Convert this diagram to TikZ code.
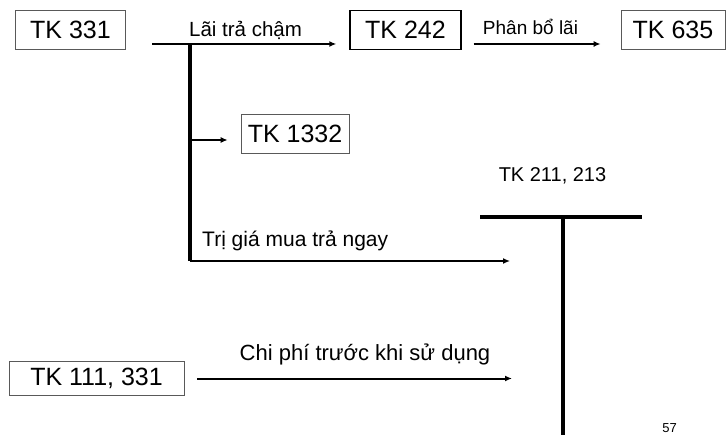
\documentclass[tikz,border=0pt]{standalone}
\usepackage{fontspec}
\setmainfont{Liberation Sans}
\usetikzlibrary{arrows.meta,positioning,calc}

\begin{document}
\begin{tikzpicture}[x=1pt,y=-1pt,
    acct/.style={draw=black!65, line width=0.8pt, minimum width=#1, minimum height=39pt,
        inner sep=0pt, font=\fontsize{25}{29}\selectfont},
    acct/.default=110pt,
    flow/.style={-{Latex[length=7pt,width=6pt]}, line width=2pt},
    thinflow/.style={flow, line width=1.3pt},
    lbl/.style={font=\fontsize{20}{24}\selectfont, inner sep=0pt},
    tee/.style={line width=4pt}]
    \useasboundingbox (0,0) rectangle (727,435);

    % Accounts
    \node[acct=110pt] (tk331) at (70.5,29.5) {TK 331};
    \node[acct=111pt, draw=black, line width=1.4pt] (tk242) at (405.5,30) {TK 242};
    \node[acct=104pt] (tk635) at (673,29.5) {TK 635};
    \node[acct=108pt] (tk1332) at (295,133.5) {TK 1332};
    \node[acct=175pt, minimum height=34pt] (tk111) at (96.5,378.5) {TK 111, 331};

    % Interest on deferred payment
    \coordinate (lstart) at (152,44);
    \coordinate (split) at (190,44);
    \coordinate (fork) at (190,261);
    \draw[flow, shorten >=13pt] (lstart) -- (tk242.west |- lstart);
    \node[lbl, anchor=base, font=\fontsize{20.5}{24}\selectfont] (lbllai) at (245.5,37) {Lãi trả chậm};
    \draw[line width=4pt] (split) -- (fork);
    \draw[flow, shorten <=12pt, shorten >=20pt] (tk242.east |- lstart) -- (tk635.west |- lstart);
    \node[lbl, anchor=base, font=\fontsize{19}{22}\selectfont] (lblpb) at (530.5,35) {Phân bổ lãi};

    % VAT
    \coordinate (vat) at (190,140);
    \draw[thinflow, shorten >=13pt] (vat) -- (tk1332.west |- vat);

    % T account
    \node[lbl] (tk211) at (552.5,176) {TK 211, 213};
    \coordinate (tleft) at (480,217);
    \coordinate (tright) at (642,217);
    \coordinate (ttop) at (563,217);
    \coordinate (tbot) at (563,437);
    \draw[tee] (tleft) -- (tright);
    \draw[tee] (ttop) -- (tbot);

    % Cash price
    \draw[thinflow, shorten >=53pt] (fork) -- (ttop |- fork);
    \node[lbl, anchor=base west, font=\fontsize{21}{25}\selectfont] (lblcash) at (202,247) {Trị giá mua trả ngay};

    % Costs before use
    \draw[flow, shorten <=13pt, shorten >=51pt] (tk111.east) -- (ttop |- tk111.east);
    \node[lbl, anchor=base, font=\fontsize{22}{26}\selectfont] (lblcost) at (365,360) {Chi phí trước khi sử dụng};

    \node[font=\fontsize{13}{15}\selectfont] (page) at (669.5,428) {57};
\end{tikzpicture}
\end{document}
